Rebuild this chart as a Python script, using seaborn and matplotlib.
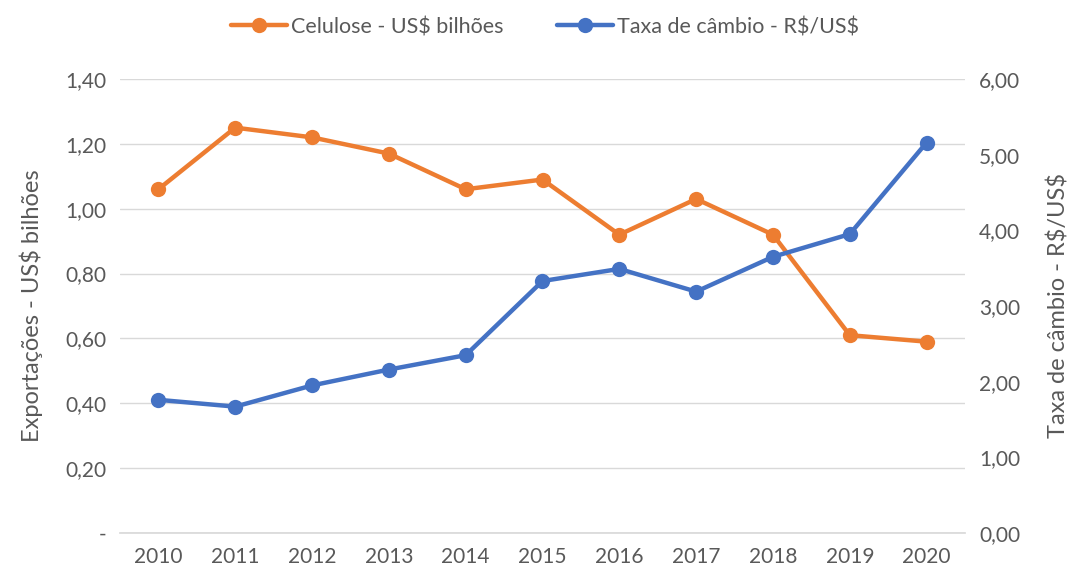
import matplotlib
matplotlib.use("Agg")
import matplotlib.pyplot as plt
import seaborn as sns
import pandas as pd
from matplotlib.ticker import FixedLocator, FuncFormatter
from matplotlib.lines import Line2D

anos = ["2010", "2011", "2012", "2013", "2014", "2015", "2016", "2017", "2018", "2019", "2020"]
celulose = [1.06, 1.25, 1.22, 1.17, 1.06, 1.09, 0.92, 1.03, 0.92, 0.61, 0.59]
cambio = [1.76, 1.67, 1.95, 2.16, 2.35, 3.33, 3.49, 3.19, 3.65, 3.95, 5.16]

laranja = "#ED7D31"
azul = "#4472C4"
cinza = "#595959"

sns.set_theme(style="white")
plt.rcParams["font.family"] = ["Lato", "DejaVu Sans"]
plt.rcParams["text.parse_math"] = False

df = pd.DataFrame({"ano": anos, "celulose": celulose, "cambio": cambio})
df["x"] = range(len(anos))

fig = plt.figure(figsize=(10.69, 5.71), dpi=100)
ax = fig.add_axes([120 / 1069, 1 - 533 / 571, 845 / 1069, 454 / 571])
ax2 = ax.twinx()

sns.lineplot(data=df, x="x", y="celulose", ax=ax, color=laranja, linewidth=3.2,
             marker="o", markersize=11, markeredgewidth=0)
sns.lineplot(data=df, x="x", y="cambio", ax=ax2, color=azul, linewidth=3.2,
             marker="o", markersize=11, markeredgewidth=0)

ax.set_xlim(-0.5, len(anos) - 0.5)
ax.set_xticks(df["x"])
ax.set_xticklabels(anos)
ax.set_ylim(0, 1.4)
ax.yaxis.set_major_locator(FixedLocator([0, 0.2, 0.4, 0.6, 0.8, 1.0, 1.2, 1.4]))
ax.yaxis.set_major_formatter(FuncFormatter(lambda v, p: "-" if abs(v) < 1e-9 else f"{v:.2f}".replace(".", ",")))
ax2.set_ylim(0, 6)
ax2.yaxis.set_major_locator(FixedLocator([0, 1, 2, 3, 4, 5, 6]))
ax2.yaxis.set_major_formatter(FuncFormatter(lambda v, p: f"{v:.2f}".replace(".", ",")))

ax.grid(axis="y", color="#D9D9D9", linewidth=1)
ax.set_axisbelow(True)
for a in (ax, ax2):
    for s in a.spines.values():
        s.set_visible(False)
    a.tick_params(axis="both", length=0, labelsize=15, labelcolor=cinza, pad=10)
ax.spines["bottom"].set_visible(True)
ax.spines["bottom"].set_color("#D9D9D9")

ax.set_xlabel("")
ax.set_ylabel("Exportações - US$ bilhões", fontsize=17, color=cinza, labelpad=16)
ax2.set_ylabel("Taxa de câmbio - R$/US$", fontsize=17, color=cinza, labelpad=20)

handles = [
    Line2D([], [], color=laranja, linewidth=3.2, marker="o", markersize=11, markeredgewidth=0),
    Line2D([], [], color=azul, linewidth=3.2, marker="o", markersize=11, markeredgewidth=0),
]
fig.legend(handles, ["Celulose - US$ bilhões", "Taxa de câmbio - R$/US$"],
           loc="center", bbox_to_anchor=(545 / 1069, 1 - 27 / 571), ncol=2,
           frameon=False, fontsize=15.5, labelcolor=cinza, handlelength=2.6,
           handletextpad=0.2, columnspacing=2.5)

fig.savefig("out.png", dpi=100)
